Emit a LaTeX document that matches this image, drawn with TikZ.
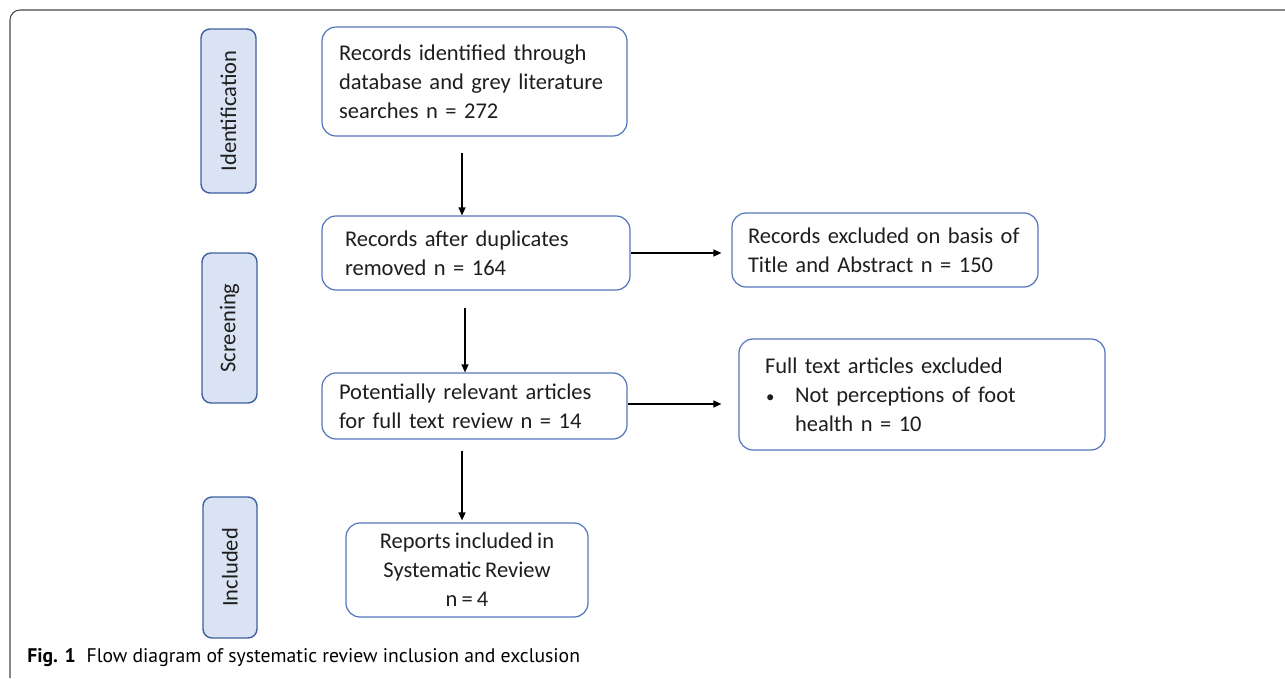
\documentclass[tikz,border=0pt]{standalone}
\usepackage{fontspec}
\setmainfont{Carlito}[WordSpace=0.8]
\newfontfamily\captionfont{PT Sans}
\usepackage{tikz}
\usetikzlibrary{arrows.meta, positioning, calc}
\definecolor{prismablue}{RGB}{84, 120, 186}
\definecolor{prismadark}{RGB}{62, 96, 160}
\definecolor{prismafill}{RGB}{218, 227, 243}
\definecolor{prismatext}{RGB}{30, 30, 30}
\definecolor{framegray}{RGB}{70, 70, 70}
\tikzstyle{stage} = [rectangle, rounded corners=0.18cm, draw=prismadark, fill=prismafill,
                     line width=0.8pt, rotate=90, inner sep=0pt, text=prismatext]
\tikzstyle{record} = [rectangle, rounded corners=0.28cm, draw=prismablue, fill=white,
                      line width=0.7pt, align=left, inner ysep=0pt, text=prismatext]
\tikzstyle{arrow} = [-{Triangle[length=1.6mm, width=1.4mm]}, line width=0.75pt, black]

\begin{document}
\begin{tikzpicture}[font=\fontsize{12.8}{16.5}\selectfont]
\useasboundingbox (0,0) rectangle (25.7,-13.56);

% Frame
\draw[framegray, line width=0.6pt, rounded corners=0.2cm] (25.7,-0.2) -- (0.2,-0.2) -- (0.2,-13.56);

% Stages
\node[stage, minimum width=3.28cm, minimum height=1.1cm] (identification) at (4.57,-2.22) {Identification};
\node[stage, minimum width=3.0cm, minimum height=1.1cm] (screening) at (4.59,-6.56) {Screening};
\node[stage, minimum width=2.82cm, minimum height=1.08cm] (included) at (4.6,-11.35) {Included};

% Records
\node[record, minimum width=6.1cm, minimum height=2.18cm, inner xsep=0.34cm, text width=5.42cm]
    (identified) at (9.49,-1.63) {Records identified through\\database and grey literature\\searches n = 272};
\node[record, minimum width=6.16cm, minimum height=1.48cm, inner xsep=0.46cm, text width=5.24cm]
    (duplicates) at (9.52,-5.06) {Records after duplicates\\removed n = 164};
\node[record, minimum width=6.1cm, minimum height=1.32cm, inner xsep=0.34cm, text width=5.42cm]
    (relevant) at (9.49,-8.12) {Potentially relevant articles\\for full text review n = 14};
\node[record, minimum width=4.84cm, minimum height=1.88cm, align=center]
    (reports) at (9.34,-11.4) {Reports included in\\Systematic Review\\n = 4};
\node[record, minimum width=6.12cm, minimum height=1.48cm, inner xsep=0.32cm, text width=5.48cm]
    (abstract) at (17.7,-5.0) {Records excluded on basis of\\Title and Abstract n = 150};
\node[record, minimum width=7.32cm, minimum height=2.22cm, inner xsep=0.52cm, text width=6.28cm]
    (fulltext) at (18.44,-7.89) {Full text articles excluded\\\makebox[0.6cm][l]{\hspace{0.02cm}\scalebox{0.75}{•}}Not perceptions of foot\\\hspace*{0.6cm}health n = 10};

% Arrows
\draw[arrow, shorten <=0.32cm] ([xshift=-0.25cm]identified.south) -- ([xshift=-0.25cm]identified.south |- duplicates.north);
\draw[arrow, shorten <=0.34cm] ([xshift=-0.22cm]duplicates.south) -- ([xshift=-0.22cm]duplicates.south |- relevant.north);
\draw[arrow, shorten <=0.22cm, shorten >=0.04cm] ([xshift=-0.25cm]relevant.south) -- ([xshift=-0.25cm]relevant.south |- reports.north);
\draw[arrow, shorten >=0.2cm] (duplicates.east) -- (duplicates.east -| abstract.west);
\draw[arrow, shorten >=0.34cm] ([yshift=0.04cm]relevant.east) -- ([yshift=0.04cm]relevant.east -| fulltext.west);

% Caption
\node[anchor=west, inner sep=0pt, font=\captionfont\fontsize{11.2}{13}\selectfont] (caption) at (0.54,-13.16)
    {\textbf{Fig. 1}\hspace{0.55em}Flow diagram of systematic review inclusion and exclusion};

\end{tikzpicture}
\end{document}
